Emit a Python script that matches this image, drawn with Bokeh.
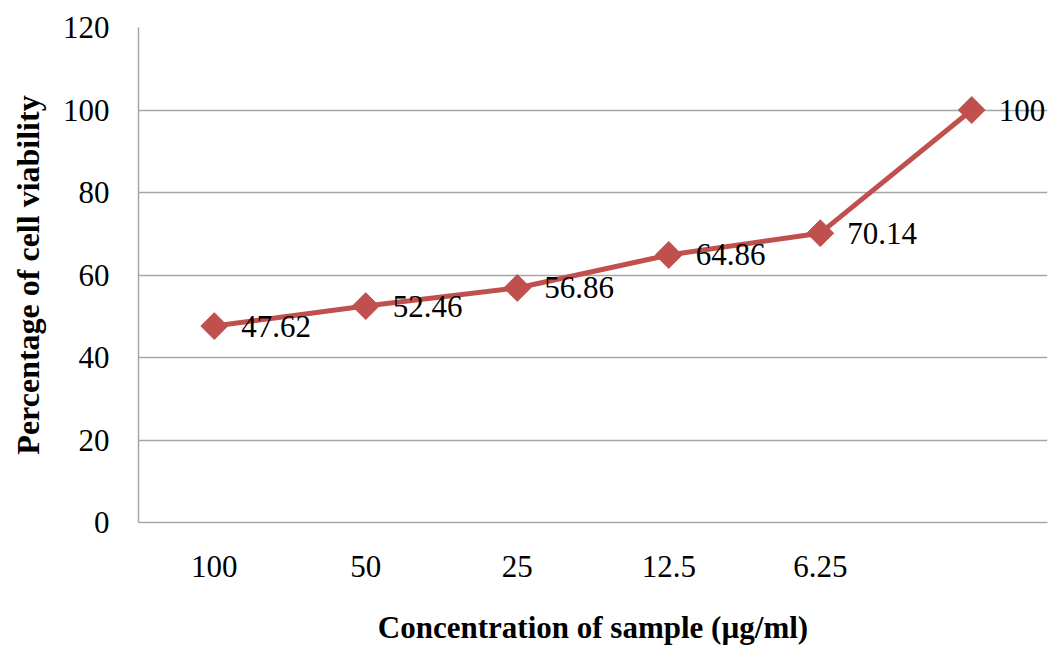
from bokeh.plotting import figure
from bokeh.models import FactorRange, Range1d, FixedTicker, ColumnDataSource, LabelSet
from bokeh.embed import file_html
from bokeh.resources import INLINE
import math

concentrations = ["100", "50", "25", "12.5", "6.25", " "]
viability = [47.62, 52.46, 56.86, 64.86, 70.14, 100]
value_labels = ["47.62", "52.46", "56.86", "64.86", "70.14", "100"]
y_ticks = [0, 20, 40, 60, 80, 100, 120]

FONT = "Liberation Serif"
RED = "#C0504D"
GRID = "#A6A6A6"

src = ColumnDataSource(dict(x=concentrations, y=viability, lab=value_labels))

p = figure(width=1049, height=648, x_range=FactorRange(*concentrations, range_padding=0),
           y_range=Range1d(0, 120), output_backend="svg", toolbar_location=None,
           min_border_left=138, min_border_right=2, min_border_top=27, min_border_bottom=126)
p.outline_line_color = None
p.background_fill_color = "white"
p.border_fill_color = "white"

p.line("x", "y", source=src, line_color=RED, line_width=5)
p.scatter("x", "y", source=src, marker="square", size=19, angle=math.pi / 4,
          fill_color=RED, line_color=RED)

labels = LabelSet(x="x", y="y", text="lab", source=src, x_offset=27, y_offset=0,
                  text_align="left", text_baseline="middle", text_font=FONT,
                  text_font_size="31px", text_color="black")
p.add_layout(labels)

# axes
p.yaxis.ticker = FixedTicker(ticks=y_ticks)
p.ygrid.ticker = FixedTicker(ticks=y_ticks)
p.xgrid.grid_line_color = None
p.ygrid.grid_line_color = GRID
p.ygrid.grid_line_width = 1.5

for ax in (p.xaxis[0], p.yaxis[0]):
    ax.axis_line_color = GRID
    ax.axis_line_width = 1.5
    ax.major_tick_line_color = None
    ax.minor_tick_line_color = None
    ax.major_label_text_font = FONT
    ax.major_label_text_font_size = "31px"
    ax.major_label_text_color = "black"
    ax.axis_label_text_font = FONT
    ax.axis_label_text_font_style = "bold"
    ax.axis_label_text_color = "black"

p.xaxis.axis_label_text_font_size = "31px"
p.yaxis.axis_label_text_font_size = "32px"
p.yaxis.major_label_standoff = 23
p.xaxis.major_label_standoff = 20
p.xaxis.axis_label = "Concentration of sample (µg/ml)"
p.yaxis.axis_label = "Percentage of cell viability"
p.xaxis.axis_label_standoff = 23
p.yaxis.axis_label_standoff = 14

open("out.html", "w").write(file_html(p, INLINE))
